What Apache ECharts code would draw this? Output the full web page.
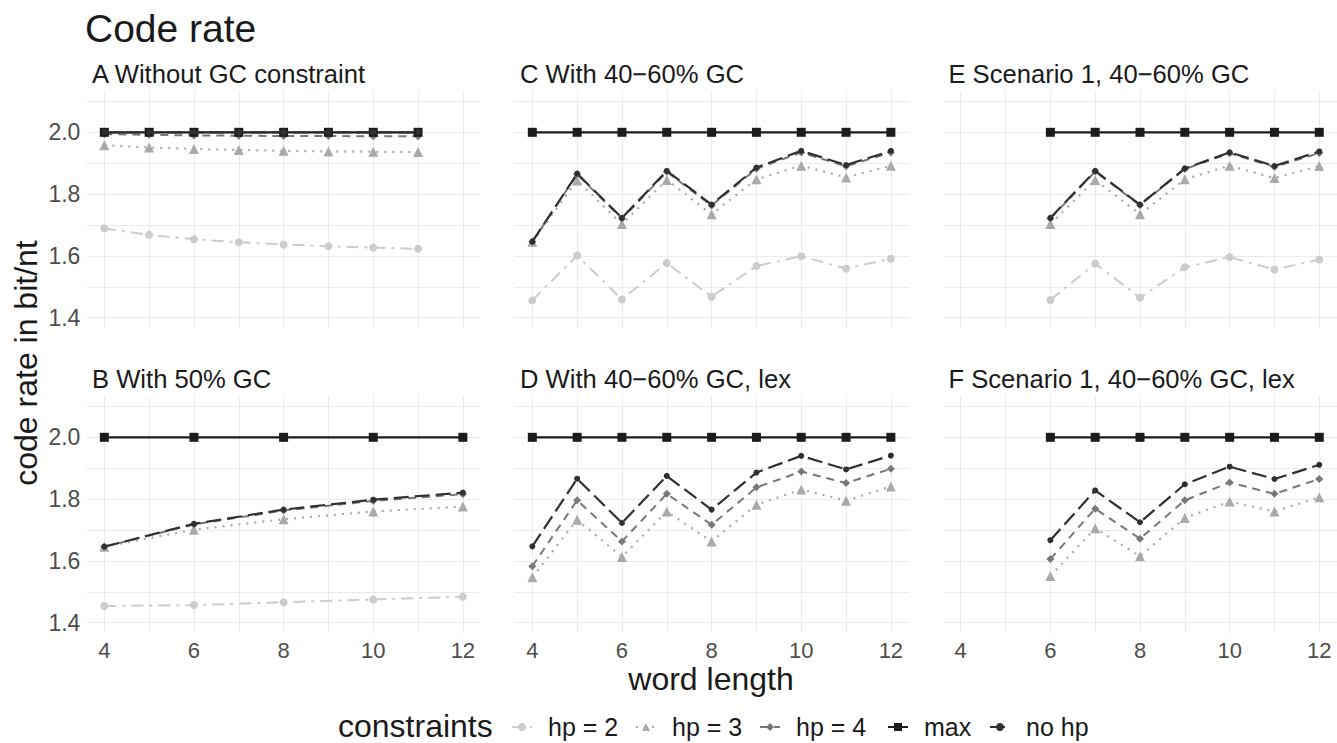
<!DOCTYPE html>
<html><head><meta charset="utf-8">
<script src="https://cdn.jsdelivr.net/npm/echarts@6/dist/echarts.min.js"></script>
<style>html,body{margin:0;padding:0;background:#fff}#chart{width:1337px;height:743px}</style>
</head><body><div id="chart"></div>
<script>
// ---------- data ----------
const seriesNames = ['hp = 2', 'hp = 3', 'hp = 4', 'max', 'no hp'];
const panelTitles = ['A Without GC constraint', 'B With 50% GC', 'C With 40\u221260% GC',
  'D With 40\u221260% GC, lex', 'E Scenario 1, 40\u221260% GC', 'F Scenario 1, 40\u221260% GC, lex'];
const xTickLabels = [4, 6, 8, 10, 12];
const xGridValues = [4, 5, 6, 7, 8, 9, 10, 11, 12];
const yTickLabels = [1.4, 1.6, 1.8, 2.0];
const yGridValues = [1.4, 1.5, 1.6, 1.7, 1.8, 1.9, 2.0, 2.1];

const xA = [4, 5, 6, 7, 8, 9, 10, 11];
const A_hp2 = [1.689, 1.668, 1.654, 1.644, 1.637, 1.631, 1.627, 1.623];
const A_hp3 = [1.958, 1.951, 1.946, 1.943, 1.940, 1.938, 1.937, 1.936];
const A_hp4 = [1.994, 1.992, 1.990, 1.989, 1.988, 1.988, 1.987, 1.987];
const A_max = [2, 2, 2, 2, 2, 2, 2, 2];
const A_nohp = [2, 2, 2, 2, 2, 2, 2, 2];

const xB = [4, 6, 8, 10, 12];
const B_hp2 = [1.454, 1.457, 1.466, 1.475, 1.484];
const B_hp3 = [1.646, 1.701, 1.735, 1.760, 1.776];
const B_hp4 = [1.646, 1.718, 1.763, 1.794, 1.816];
const B_max = [2, 2, 2, 2, 2];
const B_nohp = [1.646, 1.720, 1.766, 1.798, 1.821];

const xCD = [4, 5, 6, 7, 8, 9, 10, 11, 12];
const C_hp2 = [1.456, 1.601, 1.459, 1.577, 1.468, 1.567, 1.599, 1.559, 1.591];
const C_hp3 = [1.646, 1.844, 1.703, 1.846, 1.735, 1.848, 1.892, 1.854, 1.892];
const C_hp4 = [1.646, 1.864, 1.720, 1.872, 1.763, 1.882, 1.935, 1.890, 1.935];
const C_max = [2, 2, 2, 2, 2, 2, 2, 2, 2];
const C_nohp = [1.646, 1.866, 1.723, 1.875, 1.766, 1.886, 1.940, 1.894, 1.940];

const D_hp3 = [1.547, 1.733, 1.613, 1.760, 1.663, 1.782, 1.831, 1.795, 1.841];
const D_hp4 = [1.583, 1.796, 1.663, 1.817, 1.717, 1.838, 1.889, 1.852, 1.898];
const D_max = [2, 2, 2, 2, 2, 2, 2, 2, 2];
const D_nohp = [1.647, 1.866, 1.723, 1.875, 1.766, 1.886, 1.940, 1.896, 1.941];

const xEF = [6, 7, 8, 9, 10, 11, 12];
const E_hp2 = [1.457, 1.575, 1.465, 1.563, 1.596, 1.556, 1.588];
const E_hp3 = [1.703, 1.846, 1.735, 1.848, 1.892, 1.852, 1.891];
const E_hp4 = [1.721, 1.873, 1.764, 1.881, 1.932, 1.888, 1.933];
const E_max = [2, 2, 2, 2, 2, 2, 2];
const E_nohp = [1.723, 1.875, 1.766, 1.883, 1.935, 1.891, 1.938];

const F_hp3 = [1.551, 1.706, 1.615, 1.739, 1.792, 1.760, 1.806];
const F_hp4 = [1.606, 1.769, 1.672, 1.796, 1.854, 1.817, 1.865];
const F_max = [2, 2, 2, 2, 2, 2, 2];
const F_nohp = [1.667, 1.828, 1.725, 1.848, 1.905, 1.865, 1.911];

// ---------- layout / styles ----------
const FONT = '"Liberation Sans", Arial, Helvetica, sans-serif';
const panels = [
  { x: xA, s: [A_hp2, A_hp3, A_hp4, A_max, A_nohp], col: 0, row: 0 },
  { x: xB, s: [B_hp2, B_hp3, B_hp4, B_max, B_nohp], col: 0, row: 1 },
  { x: xCD, s: [C_hp2, C_hp3, C_hp4, C_max, C_nohp], col: 1, row: 0 },
  { x: xCD, s: [null, D_hp3, D_hp4, D_max, D_nohp], col: 1, row: 1 },
  { x: xEF, s: [E_hp2, E_hp3, E_hp4, E_max, E_nohp], col: 2, row: 0 },
  { x: xEF, s: [null, F_hp3, F_hp4, F_max, F_nohp], col: 2, row: 1 }
];
const colLeft = [86.4, 514.4, 942.8];
const rowTop = [90.6, 395.6];
const PW = 394.4, PH = 237.9;

const styles = [
  { color: '#cccccc', symbol: 'circle', size: 8, type: [12, 6, 3, 6], width: 2 },
  { color: '#a9a9a9', symbol: 'triangle', size: 10, type: [2, 6], width: 2.2 },
  { color: '#787878', symbol: 'diamond', size: 8, type: [8, 6], width: 2 },
  { color: '#1c1c1c', symbol: 'rect', size: 9, type: 'solid', width: 2.2 },
  { color: '#303030', symbol: 'circle', size: 6, type: [15, 6], width: 2.2 }
];

const grids = [], xAxes = [], yAxes = [], series = [], graphics = [];
panels.forEach((p, i) => {
  grids.push({ left: colLeft[p.col], top: rowTop[p.row], width: PW, height: PH,
    containLabel: false, outerBoundsMode: 'none' });
  xAxes.push({
    gridIndex: i, type: 'value', min: 3.6, max: 12.4,
    axisLine: { show: false },
    axisTick: { show: false, customValues: xGridValues },
    splitLine: { show: true, lineStyle: { color: '#ebebeb', width: 1 } },
    axisLabel: { show: p.row === 1, customValues: xTickLabels, margin: 9, lineHeight: 16,
      fontSize: 22, color: '#4d4d4d', fontFamily: FONT }
  });
  yAxes.push({
    gridIndex: i, type: 'value', min: 1.365, max: 2.135,
    axisLine: { show: false },
    axisTick: { show: false, customValues: yGridValues },
    splitLine: { show: true, lineStyle: { color: '#ebebeb', width: 1 } },
    axisLabel: { show: p.col === 0, customValues: yTickLabels, margin: 6,
      formatter: v => Number(v).toFixed(1),
      fontSize: 23, color: '#4d4d4d', fontFamily: FONT }
  });
  p.s.forEach((vals, k) => {
    if (!vals) return;
    const st = styles[k];
    series.push({
      name: seriesNames[k], type: 'line', xAxisIndex: i, yAxisIndex: i,
      data: p.x.map((xv, j) => [xv, vals[j]]),
      symbol: st.symbol, symbolSize: st.size, showSymbol: true,
      itemStyle: { color: st.color },
      lineStyle: { color: st.color, width: st.width, type: st.type },
      emphasis: { disabled: true }, silent: true, animation: false, z: 2 + k
    });
  });
  graphics.push({
    type: 'text', x: colLeft[p.col] + 5.6, y: rowTop[p.row] - 16.4,
    style: { text: panelTitles[i], fontSize: 25.6, fontFamily: FONT, fill: '#1a1a1a',
      textAlign: 'left', textVerticalAlign: 'middle', align: 'left', verticalAlign: 'middle' }
  });
});

graphics.push({ type: 'text', x: 85, y: 28.5,
  style: { text: 'Code rate', fontSize: 39, fontFamily: FONT, fill: '#1a1a1a',
    textAlign: 'left', textVerticalAlign: 'middle', align: 'left', verticalAlign: 'middle' } });
graphics.push({ type: 'text', x: 711, y: 679,
  style: { text: 'word length', fontSize: 32, lineHeight: 22, fontFamily: FONT, fill: '#1a1a1a',
    textAlign: 'center', textVerticalAlign: 'middle', align: 'center', verticalAlign: 'middle' } });
graphics.push({ type: 'text', x: 26, y: 363, rotation: Math.PI / 2,
  style: { text: 'code rate in bit/nt', fontSize: 32, fontFamily: FONT, fill: '#1a1a1a',
    textAlign: 'center', textVerticalAlign: 'middle', align: 'center', verticalAlign: 'middle' } });
graphics.push({ type: 'text', x: 338, y: 726,
  style: { text: 'constraints', fontSize: 32, lineHeight: 24, fontFamily: FONT, fill: '#1a1a1a',
    textAlign: 'left', textVerticalAlign: 'middle', align: 'left', verticalAlign: 'middle' } });

const legendLefts = [511, 635, 759, 887, 989];
const legends = seriesNames.map((n, k) => ({
  data: [n], left: legendLefts[k], top: 714.5, orient: 'horizontal',
  itemWidth: 20, itemHeight: 10, itemGap: 0, selectedMode: false, padding: 0,
  textStyle: { fontSize: 25, color: '#1a1a1a', fontFamily: FONT, padding: [0, 0, 0, 11] }
}));

const chart = echarts.init(document.getElementById('chart'), null, { renderer: 'svg' });
chart.setOption({
  backgroundColor: '#ffffff', animation: false,
  grid: grids, xAxis: xAxes, yAxis: yAxes, series: series,
  legend: legends, graphic: graphics
});
</script>
</body></html>
